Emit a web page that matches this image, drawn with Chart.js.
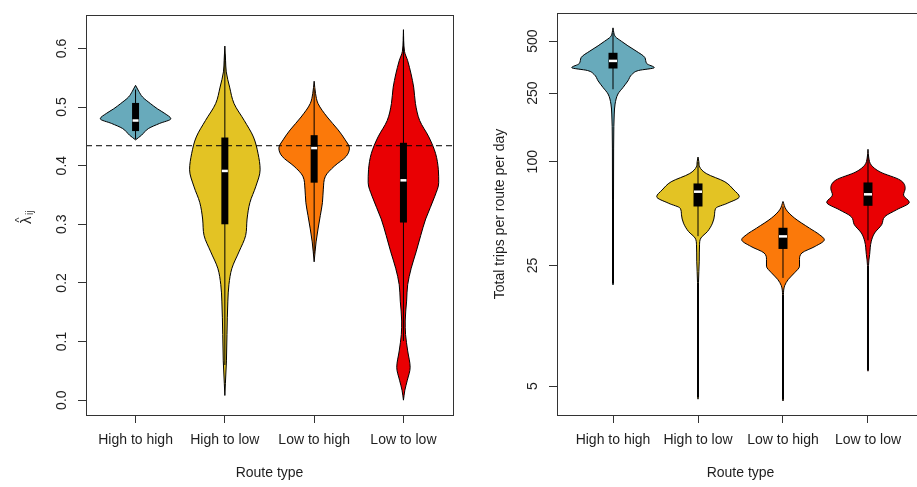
<!DOCTYPE html>
<html>
<head>
<meta charset="utf-8">
<title>Route type violins</title>
<script src="https://cdn.jsdelivr.net/npm/chart.js@4/dist/chart.umd.min.js"></script>
<style>
  html, body { margin: 0; padding: 0; background: #fff; overflow: hidden; }
  body { width: 917px; height: 487px; position: relative; }
  canvas { position: absolute; top: 0; }
  #lambdaChart { left: 0; }
  #tripsChart { left: 460px; }
</style>
</head>
<body>
<canvas id="lambdaChart" width="460" height="487"></canvas>
<canvas id="tripsChart" width="480" height="487"></canvas>
<script>
const routeTypes = ['High to high', 'High to low', 'Low to high', 'Low to low'];
const routeColors = ['#68aabb', '#e3c324', '#fb790a', '#e90003'];

// left panel: estimated lambda_ij per route type
const lambdaTicks = [0, 0.1, 0.2, 0.3, 0.4, 0.5, 0.6];
const lambdaOverall = 0.434;
const lambdaLevels = [
  [0.444, 0.452, 0.4635, 0.472, 0.480, 0.489, 0.497, 0.506, 0.517, 0.527, 0.537],
  [0.008, 0.028, 0.067, 0.112, 0.169, 0.197, 0.225, 0.253, 0.281, 0.309, 0.337, 0.365, 0.393, 0.421, 0.449, 0.477, 0.506, 0.534, 0.560, 0.580, 0.604],
  [0.236, 0.270, 0.292, 0.315, 0.337, 0.360, 0.382, 0.399, 0.416, 0.430, 0.444, 0.461, 0.483, 0.506, 0.523, 0.544],
  [0, 0.017, 0.034, 0.056, 0.084, 0.112, 0.135, 0.169, 0.197, 0.225, 0.253, 0.281, 0.309, 0.348, 0.371, 0.393, 0.421, 0.449, 0.477, 0.506, 0.534, 0.579, 0.595, 0.632]
];
const lambdaDensity = [
  [0, 0.17, 0.37, 0.68, 1.0, 0.83, 0.62, 0.42, 0.2, 0.09, 0],
  [0, 0.015, 0.045, 0.06, 0.085, 0.115, 0.2, 0.4, 0.59, 0.63, 0.71, 0.88, 1.0, 0.94, 0.81, 0.55, 0.26, 0.135, 0.04, 0.02, 0],
  [0, 0.055, 0.11, 0.175, 0.235, 0.26, 0.32, 0.57, 0.91, 1.0, 0.88, 0.68, 0.37, 0.11, 0.04, 0],
  [0, 0.04, 0.11, 0.19, 0.12, 0.06, 0.05, 0.09, 0.12, 0.22, 0.36, 0.49, 0.63, 0.89, 1.0, 0.99, 0.91, 0.72, 0.46, 0.34, 0.29, 0.12, 0.03, 0]
];
const lambdaQ1 = [0.459, 0.300, 0.371, 0.303];
const lambdaMedian = [0.477, 0.391, 0.430, 0.375];
const lambdaQ3 = [0.507, 0.448, 0.452, 0.439];
const lambdaWhiskerLow = [0.445, 0.06, 0.25, 0.101];
const lambdaWhiskerHigh = [0.530, 0.59, 0.53, 0.62];

// right panel: total trips per route per day (log axis)
const tripTicks = [5, 25, 100, 250, 500];
const tripLevels = [
  [19.3, 19.6, 60, 120, 160, 189, 216, 247, 269, 294, 321, 338, 351, 370, 402, 438, 470, 500, 530, 560, 597],
  [4.2, 4.3, 20, 26.5, 33.0, 36.1, 39.4, 44.0, 49.2, 53.7, 57.4, 62.7, 68.5, 76.5, 85.4, 93.3, 100, 106.4],
  [4.1, 4.2, 17, 19.1, 20.8, 22.7, 24.8, 27.1, 29.6, 32.3, 35.3, 37.8, 41.2, 47.1, 52.6, 58.8],
  [6.1, 6.2, 25, 29, 34.6, 38.6, 43.1, 48.1, 52.6, 58.2, 64.1, 70, 78.2, 87.3, 95.5, 105, 118]
];
const tripDensity = [
  [0, 0.012, 0.012, 0.015, 0.02, 0.03, 0.05, 0.12, 0.24, 0.36, 0.46, 0.62, 1.0, 0.82, 0.77, 0.56, 0.36, 0.2, 0.06, 0.02, 0],
  [0, 0.012, 0.012, 0.03, 0.037, 0.07, 0.23, 0.35, 0.40, 0.43, 0.71, 1.0, 0.87, 0.65, 0.2, 0.04, 0.02, 0],
  [0, 0.012, 0.012, 0.04, 0.13, 0.28, 0.40, 0.40, 0.46, 0.78, 1.0, 0.88, 0.64, 0.28, 0.08, 0],
  [0, 0.012, 0.012, 0.04, 0.08, 0.16, 0.33, 0.41, 0.69, 1.0, 0.86, 0.9, 0.78, 0.29, 0.08, 0.02, 0]
];
const tripQ1 = [347, 55.0, 31.2, 55.5];
const tripMedian = [384, 67.0, 36.9, 64.7];
const tripQ3 = [428, 74.8, 41.4, 75.8];
const tripWhiskerLow = [263, 37, 21.2, 35];
const tripWhiskerHigh = [560, 100, 55, 110];

const textColor = '#1e1e1e';
const axisColor = '#333';
const fontFamily = '"Liberation Sans", Arial, Helvetica, sans-serif';
Chart.defaults.font.family = fontFamily;
Chart.defaults.font.size = 14;
Chart.defaults.color = textColor;

// one violin = right edge filled across to its left edge, plus box, whisker and median
function violinDatasets(p) {
  const sets = [];
  sets.push({
    data: p.median.map((m, i) => ({ x: i + 1, y: m })),
    showLine: false,
    pointStyle: 'line',
    pointRadius: p.boxWidth / 2 - 0.5,
    pointBorderWidth: 2.5,
    pointBorderColor: '#fff'
  });
  p.q1.forEach((q, i) => {
    sets.push({
      data: [{ x: i + 1, y: q }, { x: i + 1, y: p.q3[i] }],
      borderColor: '#000',
      borderWidth: p.boxWidth,
      borderCapStyle: 'butt'
    });
  });
  p.whiskerLow.forEach((w, i) => {
    sets.push({
      data: [{ x: i + 1, y: w }, { x: i + 1, y: p.whiskerHigh[i] }],
      borderColor: '#000',
      borderWidth: 1
    });
  });
  if (p.refLine !== undefined) {
    sets.push({
      data: [{ x: p.xMin, y: p.refLine }, { x: p.xMax, y: p.refLine }],
      borderColor: '#000',
      borderWidth: 1,
      borderDash: [6, 4]
    });
  }
  p.levels.forEach((lv, i) => {
    const d = p.density[i];
    sets.push({
      data: lv.map((v, k) => ({ x: i + 1 + d[k] * p.halfWidth, y: v })),
      fill: '+1',
      backgroundColor: routeColors[i],
      borderColor: '#000',
      borderWidth: 1,
      cubicInterpolationMode: 'monotone'
    });
    sets.push({
      data: lv.map((v, k) => ({ x: i + 1 - d[k] * p.halfWidth, y: v })),
      fill: false,
      borderColor: '#000',
      borderWidth: 1,
      cubicInterpolationMode: 'monotone'
    });
  });
  return sets;
}

const framePlugin = {
  id: 'frame',
  afterDraw(chart) {
    const { ctx, chartArea: a } = chart;
    ctx.save();
    ctx.strokeStyle = axisColor;
    ctx.lineWidth = 1;
    ctx.strokeRect(Math.round(a.left) + 0.5, Math.round(a.top) + 0.5,
      Math.round(a.right - a.left), Math.round(a.bottom - a.top));
    ctx.restore();
  }
};

// lambda-hat with ij subscript, reading upwards
const lambdaTitle = {
  id: 'lambdaTitle',
  afterDraw(chart) {
    const { ctx, chartArea } = chart;
    const cy = (chartArea.top + chartArea.bottom) / 2;
    ctx.save();
    ctx.translate(25, cy);
    ctx.rotate(-Math.PI / 2);
    ctx.fillStyle = textColor;
    ctx.textAlign = 'left';
    ctx.textBaseline = 'alphabetic';
    ctx.font = '15px ' + fontFamily;
    ctx.fillText('λ', -9, 6);
    ctx.font = '11px ' + fontFamily;
    ctx.fillText('^', -7.5, -2);
    ctx.font = '10px ' + fontFamily;
    ctx.fillText('ij', 0, 8);
    ctx.restore();
  }
};

function makeChart(id, cfg) {
  const xScale = {
    type: 'linear',
    min: cfg.xMin,
    max: cfg.xMax,
    bounds: 'data',
    afterBuildTicks: s => { s.ticks = routeTypes.map((_, i) => ({ value: i + 1 })); },
    afterFit: s => { s.height = 72; },
    ticks: { autoSkip: false, maxRotation: 0, padding: 9, callback: v => routeTypes[v - 1] },
    grid: { drawOnChartArea: false, drawTicks: true, tickLength: 8, color: axisColor },
    border: { display: false },
    title: { display: true, text: 'Route type', padding: { top: 0, bottom: 5 } }
  };
  const yScale = {
    type: cfg.yType,
    min: cfg.yMin,
    max: cfg.yMax,
    bounds: 'data',
    afterBuildTicks: s => { s.ticks = cfg.yTicks.map(v => ({ value: v })); },
    afterFit: s => { s.width = cfg.yWidth; },
    ticks: {
      autoSkip: false, minRotation: 90, maxRotation: 90, crossAlign: 'center',
      padding: cfg.tickPad, callback: cfg.tickLabel
    },
    grid: { drawOnChartArea: false, drawTicks: true, tickLength: 8, color: axisColor },
    border: { display: false },
    title: cfg.yTitle
      ? { display: true, text: cfg.yTitle, padding: { top: cfg.titlePad, bottom: 0 } }
      : { display: false }
  };
  return new Chart(document.getElementById(id), {
    type: 'line',
    data: { datasets: violinDatasets(cfg) },
    options: {
      responsive: false,
      animation: false,
      events: [],
      indexAxis: 'y',
      layout: { padding: { top: 10, right: cfg.padRight, left: 0, bottom: 0 } },
      elements: { point: { radius: 0 } },
      plugins: {
        legend: { display: false },
        tooltip: { enabled: false },
        filler: { drawTime: 'beforeDatasetsDraw' }
      },
      scales: { x: xScale, y: yScale }
    },
    plugins: cfg.plugins
  });
}

makeChart('lambdaChart', {
  levels: lambdaLevels, density: lambdaDensity,
  q1: lambdaQ1, median: lambdaMedian, q3: lambdaQ3,
  whiskerLow: lambdaWhiskerLow, whiskerHigh: lambdaWhiskerHigh,
  refLine: lambdaOverall,
  xMin: 0.445, xMax: 4.555, yType: 'linear', yMin: -0.0253, yMax: 0.657,
  yTicks: lambdaTicks, tickLabel: v => v.toFixed(1),
  yWidth: 86, padRight: 7, tickPad: 6.6,
  halfWidth: 0.395, boxWidth: 7,
  plugins: [framePlugin, lambdaTitle]
});

makeChart('tripsChart', {
  levels: tripLevels, density: tripDensity,
  q1: tripQ1, median: tripMedian, q3: tripQ3,
  whiskerLow: tripWhiskerLow, whiskerHigh: tripWhiskerHigh,
  xMin: 0.341, xMax: 4.659, yType: 'logarithmic', yMin: 3.40, yMax: 728,
  yTicks: tripTicks, tickLabel: v => String(v),
  yWidth: 97, padRight: 16, tickPad: 4.6,
  yTitle: 'Total trips per route per day', titlePad: 31.6,
  halfWidth: 0.486, boxWidth: 9,
  plugins: [framePlugin]
});
</script>
</body>
</html>
